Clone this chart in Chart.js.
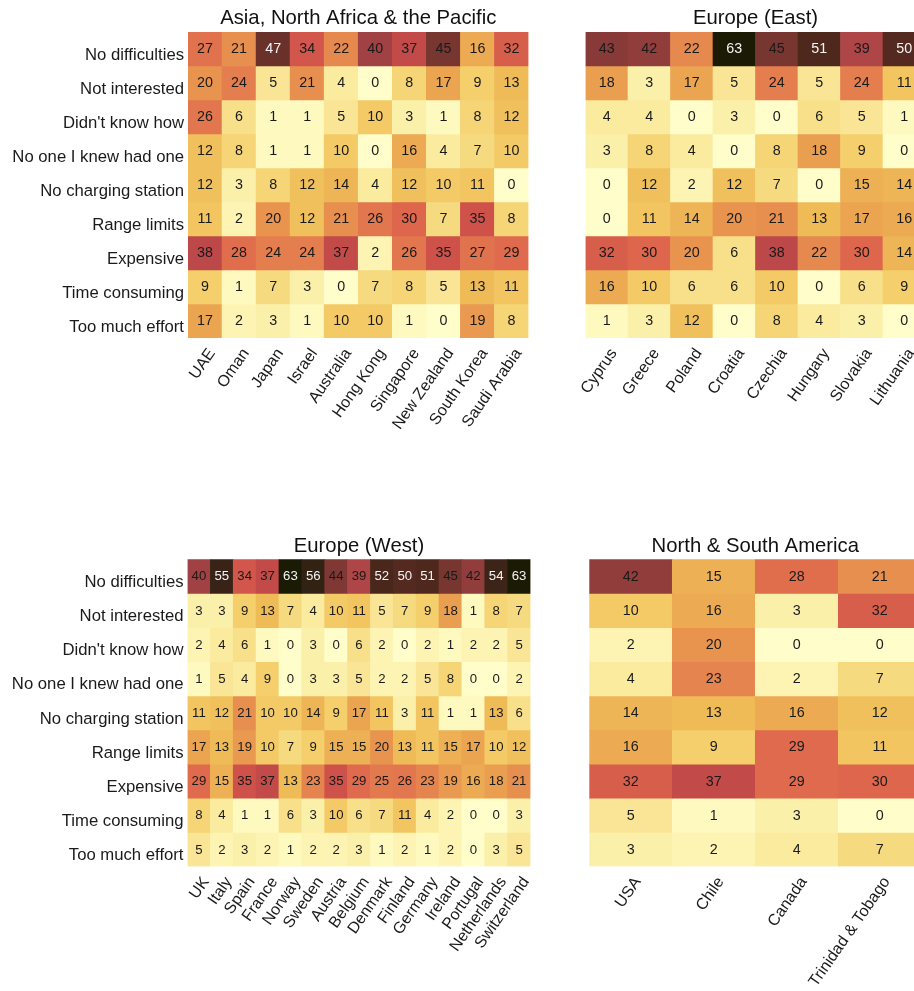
<!DOCTYPE html>
<html>
<head>
<meta charset="utf-8">
<script src="https://cdn.jsdelivr.net/npm/chart.js@4.4.1/dist/chart.umd.min.js"></script>
<style>
  html, body { margin: 0; padding: 0; background: #ffffff; overflow: hidden; width: 914px; height: 991px; }
  canvas { position: absolute; display: block; }
</style>
</head>
<body>
<canvas id="asia" width="550" height="500" style="left:0px;top:0px"></canvas>
<canvas id="east" width="400" height="500" style="left:550px;top:0px"></canvas>
<canvas id="west" width="550" height="491" style="left:0px;top:500px"></canvas>
<canvas id="america" width="400" height="491" style="left:550px;top:500px"></canvas>
<script>
// Survey answers (share of respondents, %) per region; one inner array per answer row.
const reasons = [
  'No difficulties', 'Not interested', "Didn't know how", 'No one I knew had one',
  'No charging station', 'Range limits', 'Expensive', 'Time consuming', 'Too much effort'
];

const asiaCountries = ['UAE', 'Oman', 'Japan', 'Israel', 'Australia', 'Hong Kong', 'Singapore', 'New Zealand', 'South Korea', 'Saudi Arabia'];
const asiaValues = [
  [27, 21, 47, 34, 22, 40, 37, 45, 16, 32],
  [20, 24, 5, 21, 4, 0, 8, 17, 9, 13],
  [26, 6, 1, 1, 5, 10, 3, 1, 8, 12],
  [12, 8, 1, 1, 10, 0, 16, 4, 7, 10],
  [12, 3, 8, 12, 14, 4, 12, 10, 11, 0],
  [11, 2, 20, 12, 21, 26, 30, 7, 35, 8],
  [38, 28, 24, 24, 37, 2, 26, 35, 27, 29],
  [9, 1, 7, 3, 0, 7, 8, 5, 13, 11],
  [17, 2, 3, 1, 10, 10, 1, 0, 19, 8]
];

const eastCountries = ['Cyprus', 'Greece', 'Poland', 'Croatia', 'Czechia', 'Hungary', 'Slovakia', 'Lithuania'];
const eastValues = [
  [43, 42, 22, 63, 45, 51, 39, 50],
  [18, 3, 17, 5, 24, 5, 24, 11],
  [4, 4, 0, 3, 0, 6, 5, 1],
  [3, 8, 4, 0, 8, 18, 9, 0],
  [0, 12, 2, 12, 7, 0, 15, 14],
  [0, 11, 14, 20, 21, 13, 17, 16],
  [32, 30, 20, 6, 38, 22, 30, 14],
  [16, 10, 6, 6, 10, 0, 6, 9],
  [1, 3, 12, 0, 8, 4, 3, 0]
];

const westCountries = ['UK', 'Italy', 'Spain', 'France', 'Norway', 'Sweden', 'Austria', 'Belgium', 'Denmark', 'Finland', 'Germany', 'Ireland', 'Portugal', 'Netherlands', 'Switzerland'];
const westValues = [
  [40, 55, 34, 37, 63, 56, 44, 39, 52, 50, 51, 45, 42, 54, 63],
  [3, 3, 9, 13, 7, 4, 10, 11, 5, 7, 9, 18, 1, 8, 7],
  [2, 4, 6, 1, 0, 3, 0, 6, 2, 0, 2, 1, 2, 2, 5],
  [1, 5, 4, 9, 0, 3, 3, 5, 2, 2, 5, 8, 0, 0, 2],
  [11, 12, 21, 10, 10, 14, 9, 17, 11, 3, 11, 1, 1, 13, 6],
  [17, 13, 19, 10, 7, 9, 15, 15, 20, 13, 11, 15, 17, 10, 12],
  [29, 15, 35, 37, 13, 23, 35, 29, 25, 26, 23, 19, 16, 18, 21],
  [8, 4, 1, 1, 6, 3, 10, 6, 7, 11, 4, 2, 0, 0, 3],
  [5, 2, 3, 2, 1, 2, 2, 3, 1, 2, 1, 2, 0, 3, 5]
];

const americaCountries = ['USA', 'Chile', 'Canada', 'Trinidad & Tobago'];
const americaValues = [
  [42, 15, 28, 21],
  [10, 16, 3, 32],
  [2, 20, 0, 0],
  [4, 23, 2, 7],
  [14, 13, 16, 12],
  [16, 9, 29, 11],
  [32, 37, 29, 30],
  [5, 1, 3, 0],
  [3, 2, 4, 7]
];

// ---- colour scale: pale yellow -> orange -> red -> brown -> near black ----
const FONT = "'Liberation Sans', Arial, Helvetica, sans-serif";
const colorStops = [
  [0, '#fffdc9'], [4, '#faeb9f'], [9, '#f4cf6b'], [13, '#efbb57'], [18, '#ea9f50'],
  [24, '#e47e4e'], [30, '#de664d'], [35, '#cf524a'], [38, '#bc4849'], [40, '#a04143'],
  [45, '#783631'], [50, '#54291f'], [56, '#322214'], [63, '#1b1a04']
];
function hexToRgb(h) {
  const n = parseInt(h.slice(1), 16);
  return [(n >> 16) & 255, (n >> 8) & 255, n & 255];
}
function heatColor(v) {
  for (let k = 1; k < colorStops.length; k++) {
    const [v1, c1] = colorStops[k];
    const [v0, c0] = colorStops[k - 1];
    if (v <= v1 || k === colorStops.length - 1) {
      const t = Math.max(0, Math.min(1, (v - v0) / (v1 - v0)));
      const a = hexToRgb(c0), b = hexToRgb(c1);
      const m = a.map((x, j) => Math.round(x + (b[j] - x) * t));
      return `rgb(${m[0]},${m[1]},${m[2]})`;
    }
  }
}

Chart.defaults.font.family = FONT;
Chart.defaults.color = '#1a1a1a';

// Builds one heatmap panel: each answer row is a dataset of floating bars [row, row+1].
function heatmap(id, title, countries, values, frame) {
  const canvas = document.getElementById(id);
  const W = canvas.width, H = canvas.height;

  const labelsPlugin = {
    id: 'cellLabels_' + id,
    afterDatasetsDraw(chart) {
      const ctx = chart.ctx;
      ctx.save();
      ctx.font = `${frame.valueSize}px ${FONT}`;
      ctx.textAlign = 'center';
      ctx.textBaseline = 'middle';
      chart.data.datasets.forEach((ds, r) => {
        chart.getDatasetMeta(r).data.forEach((bar, i) => {
          const v = values[r][i];
          const p = bar.getCenterPoint();
          ctx.fillStyle = v >= 46 ? '#f4f4f4' : '#1a1a1a';
          ctx.fillText(String(v), p.x, p.y + 0.5);
        });
      });
      const area = chart.chartArea;
      ctx.font = `20.3px ${FONT}`;
      ctx.fillStyle = '#111111';
      ctx.textBaseline = 'alphabetic';
      ctx.fillText(title, (area.left + area.right) / 2, frame.titleY);
      ctx.restore();
    }
  };

  const datasets = reasons.map((reason, r) => ({
    label: reason,
    data: countries.map(() => [r, r + 1]),
    backgroundColor: ctx => heatColor(values[r][ctx.dataIndex]),
    borderWidth: 0,
    grouped: false,
    barPercentage: 1,
    categoryPercentage: 1
  }));

  return new Chart(canvas, {
    type: 'bar',
    data: { labels: countries, datasets },
    options: {
      responsive: false,
      animation: false,
      events: [],
      layout: {
        padding: {
          left: frame.showRows ? 0 : frame.left,
          right: W - frame.right,
          top: frame.top,
          bottom: 0
        }
      },
      plugins: {
        legend: { display: false },
        tooltip: { enabled: false },
        title: { display: false }
      },
      scales: {
        x: {
          type: 'category',
          position: 'bottom',
          grid: { display: false, drawTicks: false },
          border: { display: false },
          ticks: {
            autoSkip: false,
            maxRotation: 55,
            minRotation: 55,
            padding: 7,
            labelOffset: 7,
            color: '#1a1a1a',
            font: { size: 16, family: FONT }
          },
          afterFit(scale) { scale.height = H - frame.bottom; }
        },
        y: {
          type: 'linear',
          display: frame.showRows,
          min: 0,
          max: reasons.length,
          reverse: true,
          grid: { display: false, drawTicks: false },
          border: { display: false },
          afterBuildTicks(scale) {
            scale.ticks = reasons.map((_, r) => ({ value: r + 0.5 }));
          },
          ticks: {
            padding: 4,
            labelOffset: 6,
            color: '#1a1a1a',
            font: { size: 16.7, family: FONT },
            callback: (value) => reasons[Math.floor(value)]
          },
          afterFit(scale) { if (frame.showRows) scale.width = frame.left; }
        }
      }
    },
    plugins: [labelsPlugin]
  });
}

heatmap('asia', 'Asia, North Africa & the Pacific', asiaCountries, asiaValues,
  { left: 188, right: 528.5, top: 32, bottom: 338, titleY: 23.5, valueSize: 14.3, showRows: true });
heatmap('east', 'Europe (East)', eastCountries, eastValues,
  { left: 35.5, right: 375.5, top: 32, bottom: 338, titleY: 23.5, valueSize: 14.3, showRows: false });
heatmap('west', 'Europe (West)', westCountries, westValues,
  { left: 187.5, right: 530.5, top: 59.3, bottom: 366.5, titleY: 51.5, valueSize: 13.2, showRows: true });
heatmap('america', 'North & South America', americaCountries, americaValues,
  { left: 39.3, right: 371.3, top: 59.3, bottom: 366.5, titleY: 51.5, valueSize: 14.3, showRows: false });
</script>
</body>
</html>
